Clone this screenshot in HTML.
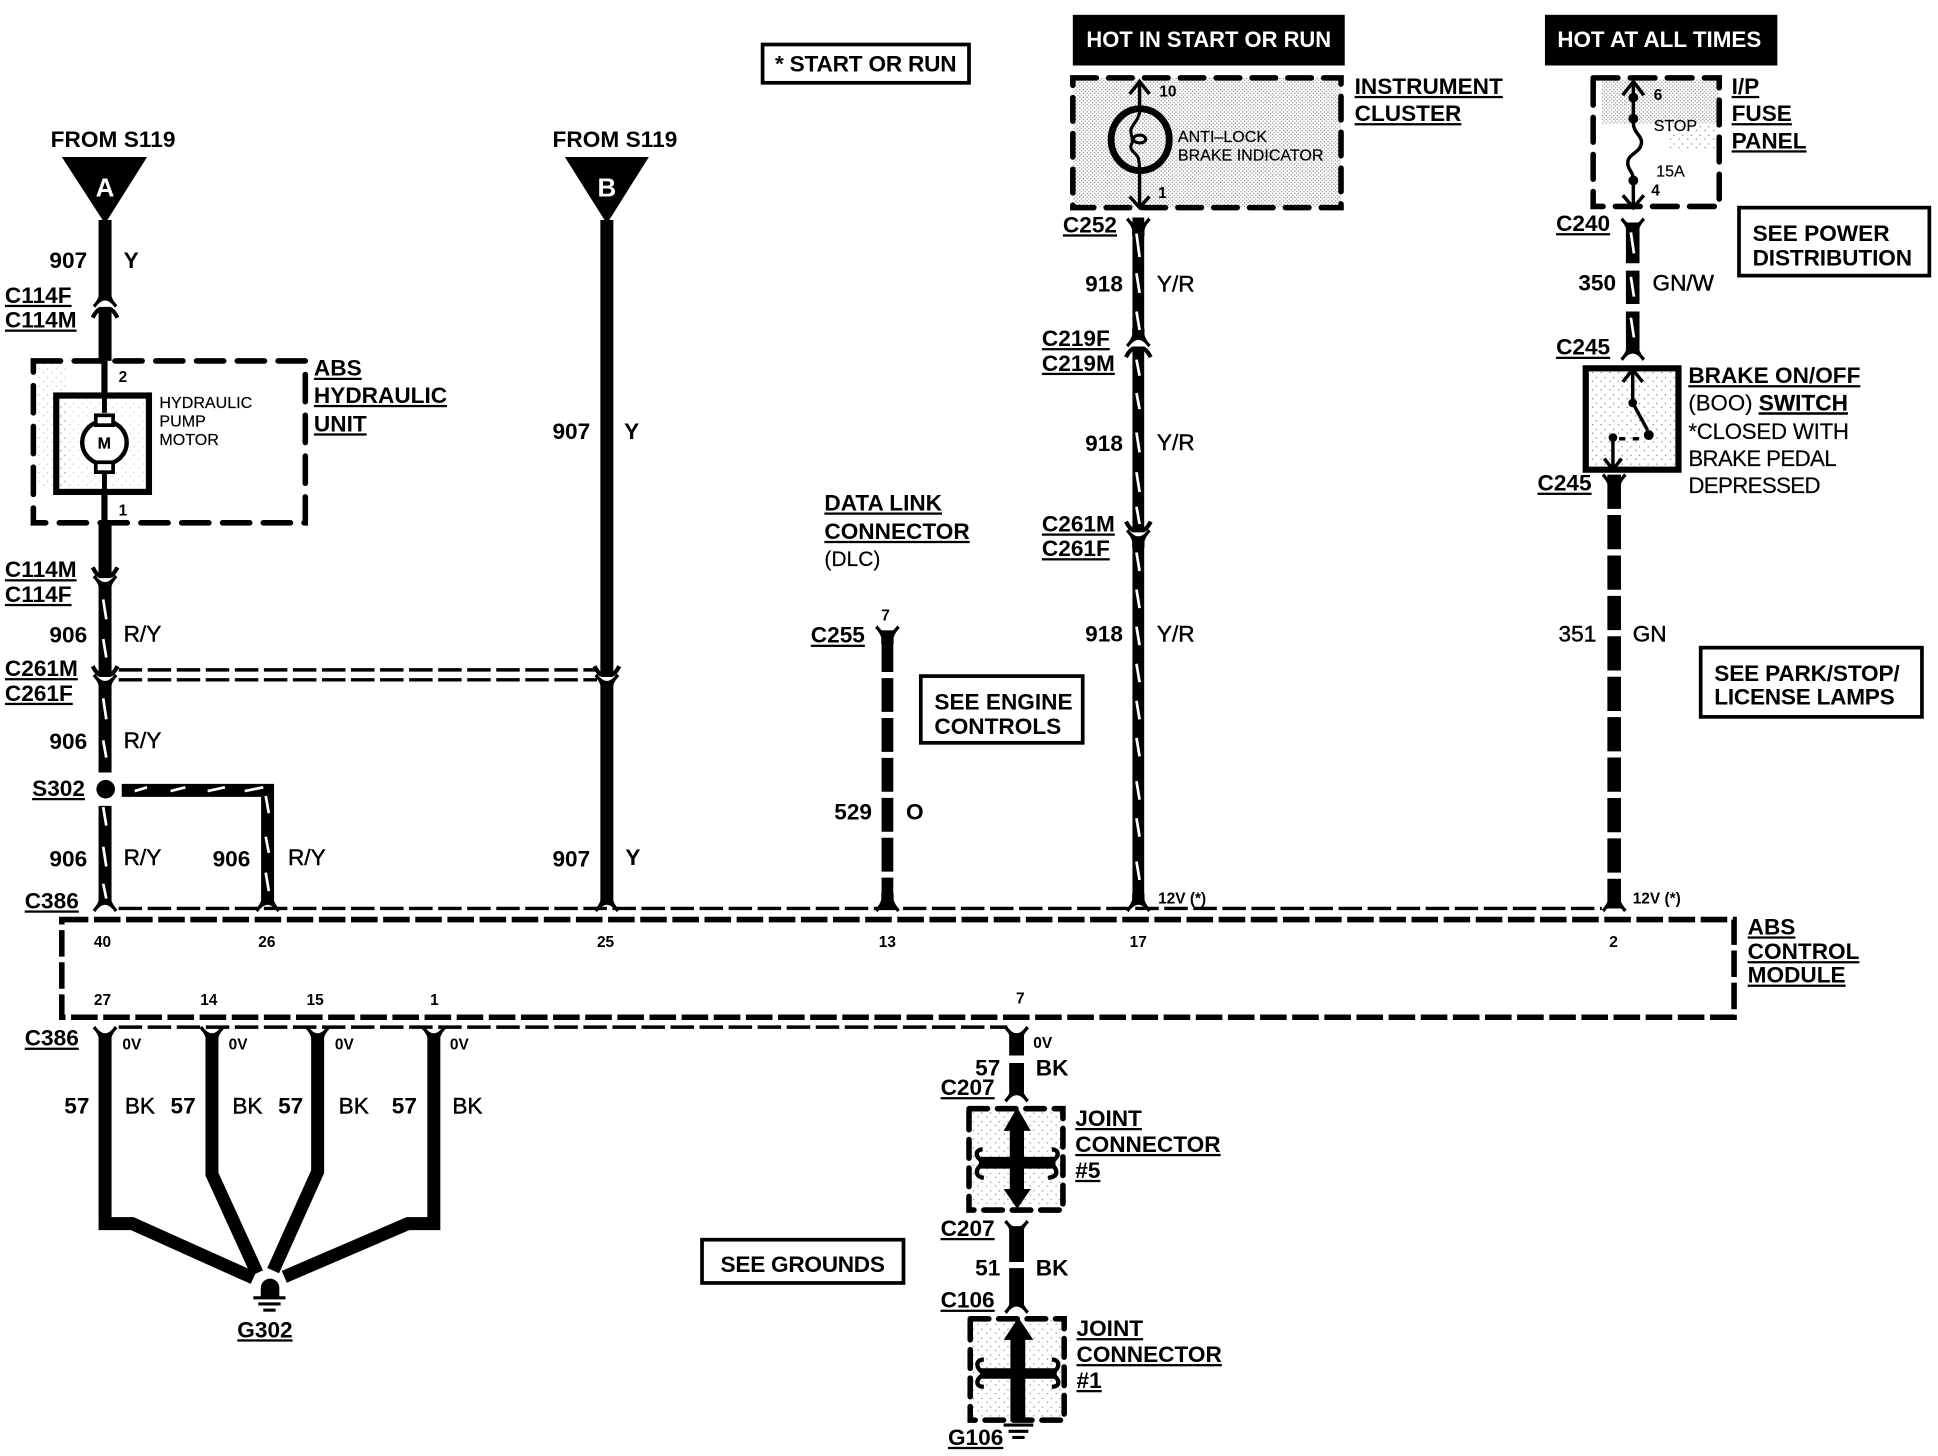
<!DOCTYPE html>
<html><head><meta charset="utf-8"><style>
html,body{margin:0;padding:0;background:#fff}
svg{display:block}
text{font-family:"Liberation Sans",sans-serif;fill:#000}
.b{font-size:18.3px;font-weight:bold}
.u{text-decoration:underline}
.m{font-size:18.3px;stroke:#000;stroke-width:.35}
.r{font-size:18px;stroke:#000;stroke-width:.15}
.s{font-size:13px;stroke:#000;stroke-width:.15}
.p{font-size:12.5px;font-weight:bold}
</style></head><body>
<svg width="1938" height="1456" viewBox="0 0 1568 1178" preserveAspectRatio="none" xmlns="http://www.w3.org/2000/svg">
<defs>
<pattern id="st" width="3" height="3" patternUnits="userSpaceOnUse"><rect width="1.1" height="1.1" fill="#000"/><rect x="1.5" y="1.5" width="1" height="1" fill="#000"/></pattern>
<pattern id="st2" width="7" height="7" patternUnits="userSpaceOnUse"><rect width="1" height="1" fill="#000"/><rect x="3" y="4" width="1" height="1" fill="#000"/></pattern>
<path id="fd" d="M-5,-8V-3Q-6,1 -10,5L-8,7Q-4,1 0,1Q4,1 8,7L10,5Q6,1 5,-3V-8Z" fill="#000"/>
<path id="fu" d="M-5,8V3Q-6,-1 -10,-5L-8,-7Q-4,-1 0,-1Q4,-1 8,-7L10,-5Q6,-1 5,3V8Z" fill="#000"/>
<path id="au" d="M-10,7Q-7,1 -4,0H4Q7,1 10,7" fill="none" stroke="#000" stroke-width="3.4"/>
<path id="ad" d="M-10,-7Q-7,-1 -4,0H4Q7,-1 10,-7" fill="none" stroke="#000" stroke-width="3.4"/>
</defs>
<rect width="1568" height="1178" fill="#fff"/>

<!-- stipple areas -->
<rect x="868" y="63" width="217" height="105" fill="url(#st)" opacity=".4"/>
<rect x="1296" y="64" width="94" height="36" fill="url(#st)" opacity=".4"/>
<rect x="1350" y="100" width="40" height="20" fill="url(#st2)" opacity=".5"/>
<rect x="1284" y="298" width="72" height="82" fill="url(#st2)" opacity=".5"/>
<rect x="786" y="897" width="72" height="80" fill="url(#st2)" opacity=".45"/>
<rect x="787" y="1067" width="72" height="80" fill="url(#st2)" opacity=".45"/>
<rect x="30" y="294" width="26" height="100" fill="url(#st2)" opacity=".25"/>
<rect x="46" y="320" width="74" height="78" fill="url(#st2)" opacity=".2"/>

<!-- dashed boxes -->
<g fill="none" stroke="#000" stroke-width="4.5" stroke-linecap="round">
<rect x="27" y="292" width="220" height="131" stroke-dasharray="22 11"/>
<rect x="868" y="63" width="217" height="105" stroke-dasharray="19 10"/>
<rect x="1289" y="63" width="102" height="104" stroke-dasharray="20 10"/>
<rect x="50" y="744" width="1353" height="79" stroke-dasharray="21.5 4.5" stroke-linecap="butt"/>
<rect x="784" y="897" width="76" height="82" stroke-dasharray="15 8"/>
<rect x="785" y="1067" width="76" height="82" stroke-dasharray="15 8"/>
<path d="M96,542H483M96,550H483M96,735H1296M96,831H815" stroke-width="2.8" stroke-dasharray="19 4.5" stroke-linecap="butt"/>
</g>

<!-- wires -->
<g fill="none" stroke="#000" stroke-width="10.5">
<path d="M85,178V241M85,250V292M85,423V466M85,471V546M85,551V625M85,652V731"/>
<path d="M491,178V546M491,551V731"/>
<path d="M98.500,639.500H216.500V731"/>
<path d="M718,510V517" stroke-width="9.5"/>
<path d="M718,516.300V735" stroke-width="9.5" stroke-dasharray="27.400 4.900"/>
<path d="M921,176V273M921,282V429M921,434V731" stroke-width="9.5"/>
<path d="M1321,180V213M1321,219V246M1321,252V284" stroke-width="11"/>
<path d="M1306,384V735" stroke-width="11" stroke-dasharray="27.700 5"/>
<path d="M85,838V990H107L205,1034M171.500,838V950L208,1030M257,838V948L221,1028M351,838V990H330L230,1033"/>
<path d="M822.500,836V854M822.500,860V884M822.500,992V1021M822.500,1026V1056" stroke-width="12"/>
</g>
<g fill="#000" stroke="none">
<path d="M50,127H119L85,181Z"/>
<path d="M457,127H525L491,181Z"/>
<circle cx="85.500" cy="638.500" r="7.500"/>
</g>
<use href="#fd" x="85" y="242"/><use href="#au" x="85" y="250"/>
<use href="#ad" x="85" y="466"/><use href="#fu" x="85" y="472"/>
<use href="#ad" x="85" y="546"/><use href="#fu" x="85" y="552"/>
<use href="#ad" x="491" y="546"/><use href="#fu" x="491" y="552"/>
<use href="#fd" x="85" y="731"/><use href="#fd" x="216.500" y="731"/><use href="#fd" x="491" y="731"/><use href="#fd" x="718" y="731"/><use href="#fd" x="921" y="731"/><use href="#fd" x="1306" y="731"/>
<use href="#fu" x="718" y="513"/>
<use href="#fu" x="921" y="183"/>
<use href="#fd" x="921" y="274"/><use href="#au" x="921" y="282"/>
<use href="#ad" x="921" y="429"/><use href="#fu" x="921" y="435"/>
<use href="#fu" x="1321" y="183"/>
<use href="#fd" x="1321" y="285"/>
<use href="#fu" x="1306" y="390"/>
<use href="#fu" x="85" y="837"/><use href="#fu" x="171.500" y="837"/><use href="#fu" x="257" y="837"/><use href="#fu" x="351" y="837"/><use href="#fu" x="822.500" y="837"/>
<use href="#fd" x="822.500" y="885"/><use href="#fu" x="822.500" y="994"/><use href="#fd" x="822.500" y="1056"/>

<!-- stripes -->
<path fill="none" stroke="#fff" stroke-width="2.200" d="M83.500,485l2.500,16M83.500,517l2.500,15M83.500,565l2.500,17M83.500,599l2.500,14M83.500,653l2.500,15M83.500,685l2.500,16M83.500,715l2.500,12
M215,644l2.500,14M215,677l2.500,13M215,706l2.500,15
M109,640l10,-3M138,640l12,-3M168,640l14,-3M198,640l15,-3
M919.500,189l2.500,19M919.500,221l2.500,16M919.500,252l2.500,15M919.500,291l2.500,13M919.500,318l2.500,13M919.500,350l2.500,16M919.500,382l2.500,16M919.500,410l2.500,14M919.500,447l2.500,15M919.500,477l2.500,15M919.500,507l2.500,15M919.500,537l2.500,15M919.500,567l2.500,15M919.500,597l2.500,15M919.500,632l2.500,15M919.500,662l2.500,15M919.500,697l2.500,15
M1319.500,188l2.500,17M1319.500,224l2.500,16M1319.500,257l2.500,16"/>

<!-- motor -->
<g fill="none" stroke="#000">
<rect x="45.500" y="320" width="75" height="78" stroke-width="5"/>
<path d="M84.500,292V320M84.500,398V423" stroke-width="5"/>
<path d="M84.500,320V334M84.500,382V398" stroke-width="4"/>
<ellipse cx="84.500" cy="358" rx="18" ry="17.500" stroke-width="3.500" fill="#fff"/>
<rect x="77.500" y="336" width="14" height="8" stroke-width="3" fill="#fff"/>
<rect x="77.500" y="374" width="14" height="8" stroke-width="3" fill="#fff"/>
</g>

<!-- indicator -->
<g fill="none" stroke="#000">
<path d="M922,66V88M922,138V168" stroke-width="2.800"/>
<path d="M914,76L922,66L930,76M914,159L922,168L930,159" stroke-width="2.800"/>
<ellipse cx="922.500" cy="113" rx="23.500" ry="25" stroke-width="5.500"/>
<path d="M922.500,89C921,99 914,102 915,107C916,112 917,114 915,118C914,122 920,124 921,128C922,132 922,134 922,137" stroke-width="2.500"/>
<ellipse cx="922" cy="112.500" rx="5" ry="3.200" stroke-width="2.500"/>
</g>

<!-- fuse -->
<g fill="none" stroke="#000" stroke-width="2.800">
<path d="M1321.500,66V100C1322,108 1329,110 1328,116C1327,124 1317,124 1317,132C1317,138 1321.500,138 1321.500,146V168"/>
<path d="M1313,77L1321.500,66L1330,77M1313,158L1321.500,168L1330,158"/>
</g>
<g fill="#000"><circle cx="1321.500" cy="79" r="4"/><circle cx="1321.500" cy="96" r="4"/><circle cx="1321.500" cy="146" r="4"/></g>

<!-- switch -->
<rect x="1283" y="298" width="75" height="82" fill="none" stroke="#000" stroke-width="5"/>
<g fill="none" stroke="#000" stroke-width="2.800">
<path d="M1321,299V326"/><path d="M1313,309L1321,299L1329,309"/>
<path d="M1321,326L1333,348"/>
<path d="M1305,354V380"/><path d="M1298,371L1305,380L1312,371"/>
<path d="M1310,355H1330" stroke-dasharray="5 6"/>
</g>
<g fill="#000"><circle cx="1321" cy="326" r="3.500"/><circle cx="1334" cy="352" r="4"/><circle cx="1305" cy="354" r="3.500"/></g>

<!-- ground -->
<path d="M211,1049V1042A7.500,7.500 0 0 1 226,1042V1049Z" fill="#000"/>
<g stroke="#000" fill="none">
<path d="M205,1050H231" stroke-width="2.500"/><path d="M209,1055H227" stroke-width="2.500"/><path d="M213,1060H223" stroke-width="2.500"/>
<path d="M812,1153H836" stroke-width="2.500"/><path d="M816,1158H832" stroke-width="2.500"/><path d="M819,1163H829" stroke-width="2.500"/>
</g>

<!-- joint connectors -->
<g fill="#000">
<path d="M817,915H812L823,896L834,915H828.500V962H834L823,978L812,962H817Z"/>
<rect x="792" y="936" width="62" height="9.500"/>
<path d="M817.500,1084H812L824,1066L836,1084H829.500V1150H817.500Z"/>
<rect x="793" y="1107" width="62" height="8.500"/>
</g>
<g fill="none" stroke="#000" stroke-width="3.500">
<path d="M796,940C788,936 789,930 795,930M796,941C788,946 789,952 796,953M850,940C858,936 857,930 851,930M850,941C856,946 857,952 848,953"/>
<path d="M796,1111C789,1107 789,1100 796,1100M796,1112C789,1116 789,1122 796,1122M851,1111C858,1107 858,1100 851,1100M851,1112C858,1116 858,1122 851,1122"/>
</g>

<!-- text boxes -->
<rect x="868" y="12" width="220" height="41" fill="#000"/>
<rect x="1250" y="12" width="188" height="41" fill="#000"/>
<text x="879" y="38" class="b" textLength="198" lengthAdjust="spacingAndGlyphs" style="fill:#fff">HOT IN START OR RUN</text>
<text x="1260" y="38" class="b" textLength="165" lengthAdjust="spacingAndGlyphs" style="fill:#fff">HOT AT ALL TIMES</text>
<g fill="none" stroke="#000" stroke-width="3">
<rect x="617" y="36" width="167" height="31"/>
<rect x="1407" y="168" width="154" height="55"/>
<rect x="1376" y="524" width="179" height="56"/>
<rect x="745" y="547" width="131" height="54"/>
<rect x="568" y="1003" width="163" height="35"/>
</g>
<text x="627" y="58" class="b" textLength="147">* START OR RUN</text>
<text x="1418" y="195" class="b">SEE POWER</text><text x="1418" y="215" class="b" textLength="129">DISTRIBUTION</text>
<text x="1387" y="551" class="b" textLength="150">SEE PARK/STOP/</text><text x="1387" y="570" class="b" textLength="146">LICENSE LAMPS</text>
<text x="756" y="574" class="b">SEE ENGINE</text><text x="756" y="594" class="b">CONTROLS</text>
<text x="583" y="1029" class="b" textLength="133">SEE GROUNDS</text>
<text x="41" y="119" class="b" textLength="101">FROM S119</text>
<text x="447" y="119" class="b" textLength="101">FROM S119</text>
<text x="85" y="159" class="b" text-anchor="middle" style="fill:#fff;font-size:21px">A</text>
<text x="491" y="159" class="b" text-anchor="middle" style="fill:#fff;font-size:21px">B</text>

<!-- component labels -->
<text x="1096" y="76" class="b u">INSTRUMENT</text><text x="1096" y="98" class="b u">CLUSTER</text>
<text x="1401" y="76" class="b u">I/P </text><text x="1401" y="98" class="b u">FUSE</text><text x="1401" y="120" class="b u">PANEL</text>
<text x="254" y="304" class="b u">ABS</text><text x="254" y="326" class="b u">HYDRAULIC</text><text x="254" y="349" class="b u">UNIT</text>
<text x="667" y="413" class="b u">DATA  LINK</text><text x="667" y="436" class="b u">CONNECTOR</text><text x="667" y="458" class="r" style="font-size:17px">(DLC)</text>
<text x="1366" y="310" class="b u">BRAKE ON/OFF</text>
<text x="1366" y="332" class="r">(BOO) <tspan class="b u">SWITCH</tspan></text>
<text x="1366" y="355" class="r" textLength="130">*CLOSED WITH</text><text x="1366" y="377" class="r" textLength="120">BRAKE PEDAL</text><text x="1366" y="399" class="r" textLength="107">DEPRESSED</text>
<text x="1414" y="756" class="b u">ABS</text><text x="1414" y="776" class="b u">CONTROL</text><text x="1414" y="795" class="b u">MODULE</text>
<text x="870" y="911" class="b u">JOINT</text><text x="870" y="932" class="b u">CONNECTOR</text><text x="870" y="953" class="b u">#5</text>
<text x="871" y="1081" class="b u">JOINT</text><text x="871" y="1102" class="b u">CONNECTOR</text><text x="871" y="1123" class="b u">#1</text>

<!-- connector labels -->
<text x="4" y="245" class="b u">C114F</text><text x="4" y="265" class="b u">C114M</text>
<text x="4" y="467" class="b u">C114M</text><text x="4" y="487" class="b u">C114F</text>
<text x="4" y="547" class="b u">C261M</text><text x="4" y="567" class="b u">C261F</text>
<text x="26" y="644" class="b u">S302</text>
<text x="20" y="735" class="b u">C386</text><text x="20" y="846" class="b u">C386</text>
<text x="656" y="520" class="b u">C255</text>
<text x="860" y="188" class="b u">C252</text>
<text x="843" y="280" class="b u">C219F</text><text x="843" y="300" class="b u">C219M</text>
<text x="843" y="430" class="b u">C261M</text><text x="843" y="450" class="b u">C261F</text>
<text x="1259" y="187" class="b u">C240</text><text x="1259" y="287" class="b u">C245</text><text x="1244" y="397" class="b u">C245</text>
<text x="761" y="886" class="b u">C207</text><text x="761" y="1000" class="b u">C207</text><text x="761" y="1058" class="b u">C106</text>
<text x="767" y="1169" class="b u">G106</text><text x="192" y="1082" class="b u">G302</text>

<!-- wire labels -->
<text x="40" y="217" class="b">907</text><text x="100" y="217" class="b">Y</text>
<text x="40" y="520" class="b">906</text><text x="100" y="519" class="m">R/Y</text>
<text x="40" y="606" class="b">906</text><text x="100" y="605" class="m">R/Y</text>
<text x="40" y="701" class="b">906</text><text x="100" y="700" class="m">R/Y</text>
<text x="172" y="701" class="b">906</text><text x="233" y="700" class="m">R/Y</text>
<text x="447" y="355" class="b">907</text><text x="505" y="355" class="b">Y</text>
<text x="447" y="701" class="b">907</text><text x="506" y="700" class="b">Y</text>
<text x="675" y="663" class="b">529</text><text x="733" y="663" class="b">O</text>
<text x="878" y="236" class="b">918</text><text x="936" y="236" class="m">Y/R</text>
<text x="878" y="365" class="b">918</text><text x="936" y="364" class="m">Y/R</text>
<text x="878" y="519" class="b">918</text><text x="936" y="519" class="m">Y/R</text>
<text x="1277" y="235" class="b">350</text><text x="1337" y="235" class="m">GN/W</text>
<text x="1261" y="519" class="m">351</text><text x="1321" y="519" class="m">GN</text>
<text x="52" y="901" class="b">57</text><text x="101" y="901" class="m">BK</text>
<text x="138" y="901" class="b">57</text><text x="188" y="901" class="m">BK</text>
<text x="225" y="901" class="b">57</text><text x="274" y="901" class="m">BK</text>
<text x="317" y="901" class="b">57</text><text x="366" y="901" class="m">BK</text>
<text x="789" y="870" class="b">57</text><text x="838" y="870" class="b">BK</text>
<text x="789" y="1032" class="b">51</text><text x="838" y="1032" class="b">BK</text>

<!-- small labels -->
<text x="129" y="330" class="s">HYDRAULIC</text><text x="129" y="345" class="s">PUMP</text><text x="129" y="360" class="s">MOTOR</text>
<text x="79" y="363" class="s" style="font-weight:bold">M</text>
<text x="953" y="115" class="s">ANTI–LOCK</text><text x="953" y="130" class="s">BRAKE INDICATOR</text>
<text x="1338" y="106" class="s">STOP</text><text x="1340" y="143" class="s">15A</text>
<text x="96" y="309" class="p">2</text><text x="96" y="417" class="p">1</text>
<text x="938" y="78" class="p">10</text><text x="937" y="160" class="p">1</text>
<text x="1338" y="81" class="p">6</text><text x="1336" y="158" class="p">4</text>
<text x="713" y="502" class="p">7</text>
<text x="76" y="766" class="p">40</text><text x="209" y="766" class="p">26</text><text x="483" y="766" class="p">25</text><text x="711" y="766" class="p">13</text><text x="914" y="766" class="p">17</text><text x="1302" y="766" class="p">2</text>
<text x="76" y="813" class="p">27</text><text x="162" y="813" class="p">14</text><text x="248" y="813" class="p">15</text><text x="348" y="813" class="p">1</text><text x="822" y="812" class="p">7</text>
<text x="937" y="731" class="p">12V (*)</text><text x="1321" y="731" class="p">12V (*)</text>
<text x="99" y="849" class="p">0V</text><text x="185" y="849" class="p">0V</text><text x="271" y="849" class="p">0V</text><text x="364" y="849" class="p">0V</text><text x="836" y="848" class="p">0V</text>
</svg>
</body></html>
